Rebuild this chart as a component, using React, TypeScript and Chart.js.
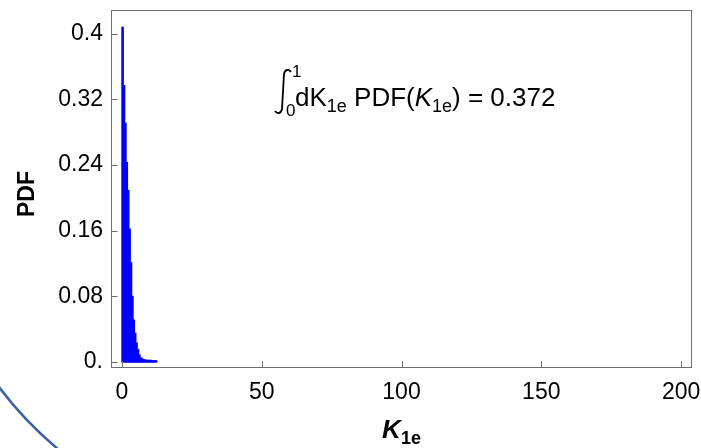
import React, { useEffect, useRef } from "react";
import { Chart, registerables } from "chart.js";
Chart.register(...registerables);

// Histogram of K_1e (bin width 0.5)
const binWidth = 0.5;
const pdfValues = [
  0.408, 0.337, 0.291, 0.243, 0.209, 0.162, 0.121, 0.08, 0.051, 0.035,
  0.023, 0.015, 0.0085, 0.005, 0.004, 0.003, 0.0025, 0.002, 0.002, 0.002,
  0.002, 0.0015, 0.0015, 0.0015, 0.0015,
];
const xTicks = [0, 50, 100, 150, 200];
const xTickLabels = ["0", "50", "100", "150", "200"];
const yTicks = [0, 0.08, 0.16, 0.24, 0.32, 0.4];
const yTickLabels = ["0.", "0.08", "0.16", "0.24", "0.32", "0.4"];
const xRange = [-3.9, 203.9];
const yRange = [-0.0073, 0.429];
const yTitle = "PDF";
const xTitleMain = "K";
const xTitleSub = "1e";
const integralLower = "0";
const integralUpper = "1";
const integralValue = "0.372";

const FONT = "'Liberation Sans', Arial, sans-serif";

const binCenters = pdfValues.map((_, i) => i * binWidth + binWidth / 2);

const decorPlugin = {
  id: "decor",
  afterDraw(chart: any) {
    const ctx = chart.ctx as CanvasRenderingContext2D;
    const ca = chart.chartArea;
    const xs = chart.scales.x;
    const ys = chart.scales.y;
    ctx.save();
    ctx.setLineDash([]);
    // frame
    ctx.strokeStyle = "#6e6e6e";
    ctx.lineWidth = 1;
    const l = Math.round(ca.left) + 0.5;
    const r = Math.round(ca.right) - 0.5;
    const t = Math.round(ca.top) + 0.5;
    const b = Math.round(ca.bottom) - 0.5;
    ctx.strokeRect(l, t, r - l, b - t);
    // ticks (inward)
    ctx.beginPath();
    yTicks.forEach((v) => {
      const py = Math.round(ys.getPixelForValue(v)) + 0.5;
      ctx.moveTo(l, py);
      ctx.lineTo(l + 6, py);
    });
    xTicks.forEach((v) => {
      const px = Math.round(xs.getPixelForValue(v)) + 0.5;
      ctx.moveTo(px, b);
      ctx.lineTo(px, b - 6);
    });
    ctx.stroke();

    ctx.fillStyle = "#000";
    // y title
    ctx.save();
    ctx.translate(28, 194);
    ctx.rotate(-Math.PI / 2);
    ctx.font = `bold 23px ${FONT}`;
    ctx.textAlign = "center";
    ctx.textBaseline = "middle";
    ctx.fillText(yTitle, 0, 0);
    ctx.restore();

    // x title K_1e
    ctx.textBaseline = "alphabetic";
    ctx.textAlign = "left";
    const cx = (ca.left + ca.right) / 2;
    ctx.font = `italic bold 26px ${FONT}`;
    const wK = ctx.measureText(xTitleMain).width;
    ctx.font = `bold 18px ${FONT}`;
    const wS = ctx.measureText(xTitleSub).width;
    const sx = cx - (wK + wS) / 2;
    ctx.font = `italic bold 26px ${FONT}`;
    ctx.fillText(xTitleMain, sx, 438);
    ctx.font = `bold 18px ${FONT}`;
    ctx.fillText(xTitleSub, sx + wK, 444);

    // annotation: integral
    ctx.strokeStyle = "#000";
    ctx.lineWidth = 1.8;
    ctx.beginPath();
    ctx.moveTo(291, 72);
    ctx.bezierCurveTo(289, 69, 285, 69, 284, 74);
    ctx.lineTo(282, 109);
    ctx.bezierCurveTo(281, 114, 277, 114, 275, 111);
    ctx.stroke();
    ctx.font = `17px ${FONT}`;
    ctx.fillText(integralUpper, 292, 77);
    ctx.fillText(integralLower, 286, 116);

    let x = 295;
    const base = 106;
    const seg = (txt: string, font: string, dy = 0) => {
      ctx.font = font;
      ctx.fillText(txt, x, base + dy);
      x += ctx.measureText(txt).width;
    };
    const normal = `26px ${FONT}`;
    const ital = `italic 26px ${FONT}`;
    const sub = `18px ${FONT}`;
    seg("dK", normal);
    seg("1e", sub, 6);
    seg(" PDF(", normal);
    seg("K", ital);
    seg("1e", sub, 6);
    seg(") = " + integralValue, normal);

    // decorative arc bottom-left
    ctx.strokeStyle = "#3b62a3";
    ctx.lineWidth = 2.5;
    ctx.beginPath();
    ctx.arc(300, 160, 377, 2.2, 2.55);
    ctx.stroke();
    ctx.restore();
  },
};

const zeroPad = (s: any) => {
  s.paddingTop = 0;
  s.paddingBottom = 0;
  s.paddingLeft = 0;
  s.paddingRight = 0;
};

export default function App() {
  const ref = useRef<HTMLCanvasElement>(null);
  useEffect(() => {
    if (!ref.current) return;
    const chart = new Chart(ref.current, {
      type: "bar",
      data: {
        datasets: [
          {
            data: pdfValues.map((v, i) => ({ x: binCenters[i], y: v })),
            backgroundColor: "#0000ff",
            borderWidth: 0,
            barPercentage: 1,
            categoryPercentage: 1,
            inflateAmount: 0.6,
          } as any,
        ],
      },
      options: {
        animation: false,
        responsive: false,
        maintainAspectRatio: false,
        layout: { padding: { top: 10, right: 9, left: 0, bottom: 0 } },
        plugins: { legend: { display: false }, tooltip: { enabled: false } },
        scales: {
          x: {
            type: "linear",
            min: xRange[0],
            max: xRange[1],
            offset: false,
            grid: { display: false, drawTicks: false, offset: false },
            border: { display: false },
            afterBuildTicks: (s: any) => {
              s.ticks = xTicks.map((v) => ({ value: v }));
            },
            afterFit: (s: any) => {
              s.height = 80;
              zeroPad(s);
            },
            ticks: {
              autoSkip: false,
              maxRotation: 0,
              padding: 11,
              color: "#000",
              font: { family: FONT, size: 23 },
              callback: (_v: any, i: number) => xTickLabels[i],
            },
          },
          y: {
            type: "linear",
            min: yRange[0],
            max: yRange[1],
            grid: { display: false, drawTicks: false },
            border: { display: false },
            afterBuildTicks: (s: any) => {
              s.ticks = yTicks.map((v) => ({ value: v }));
            },
            afterFit: (s: any) => {
              s.width = 111;
              zeroPad(s);
            },
            ticks: {
              autoSkip: false,
              padding: 8,
              color: "#000",
              font: { family: FONT, size: 23 },
              callback: (_v: any, i: number) => yTickLabels[i],
            },
          },
        },
      },
      plugins: [decorPlugin],
    } as any);
    return () => chart.destroy();
  }, []);
  return (
    <div style={{ position: "absolute", left: 0, top: 0, width: 701, height: 448, background: "#fff" }}>
      <canvas ref={ref} width={701} height={448} style={{ width: 701, height: 448, display: "block" }} />
    </div>
  );
}
